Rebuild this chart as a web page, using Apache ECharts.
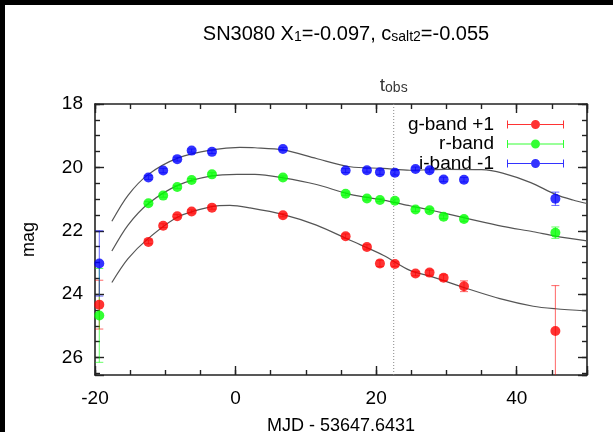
<!DOCTYPE html>
<html>
<head>
<meta charset="utf-8">
<script src="https://cdn.jsdelivr.net/npm/echarts@6/dist/echarts.min.js"></script>
<style>
  html, body { margin: 0; padding: 0; background: #000; }
  #chart { position: absolute; left: 5px; top: 5px; width: 608px; height: 427px; background: #fff; }
</style>
</head>
<body>
<div id="chart"></div>
<script>
// Observation epochs (days relative to reference MJD)
const epochs = [-19.39, -12.4, -10.3, -8.3, -6.25, -3.36, 6.74, 15.66, 18.69, 20.54, 22.67, 25.6, 27.6, 29.6, 32.5, 45.5];

// g-band (+1 mag offset)
const gMag = [24.33, 22.35, 21.84, 21.54, 21.39, 21.27, 21.51, 22.17, 22.51, 23.03, 23.05, 23.35, 23.32, 23.48, 23.75, 25.16];
const gErr = [0.77, 0.06, 0.06, 0.05, 0.05, 0.05, 0.05, 0.07, 0.07, 0.10, 0.07, 0.07, 0.08, 0.09, 0.17, 1.43];
// r-band
const rMag = [24.67, 21.13, 20.89, 20.62, 20.40, 20.22, 20.32, 20.83, 20.98, 21.03, 21.05, 21.33, 21.35, 21.56, 21.63, 22.06];
const rErr = [1.48, 0.05, 0.05, 0.05, 0.05, 0.05, 0.05, 0.05, 0.05, 0.05, 0.05, 0.06, 0.06, 0.06, 0.07, 0.18];
// i-band (-1 mag offset)
const iMag = [23.03, 20.32, 20.10, 19.74, 19.47, 19.51, 19.42, 20.10, 20.09, 20.15, 20.17, 20.05, 20.09, 20.38, 20.39, 20.99];
const iErr = [1.03, 0.06, 0.07, 0.06, 0.05, 0.05, 0.05, 0.06, 0.06, 0.07, 0.07, 0.06, 0.06, 0.07, 0.07, 0.21];

// Model light curves (x, mag)
const gModelX = [-17.6, -15.3, -12.4, -8.15, -3.4, -0.8, 2.05, 6.8, 11.5, 16.3, 21.0, 24.8, 28.1, 32.9, 37.6, 42.35, 45.5, 50];
const gModelY = [23.63, 22.88, 22.24, 21.56, 21.24, 21.20, 21.28, 21.49, 21.82, 22.30, 22.77, 23.25, 23.46, 23.82, 24.14, 24.38, 24.46, 24.53];
const rModelX = [-17.6, -15.3, -12.4, -8.15, -3.4, 0.2, 2.76, 6.8, 11.5, 16.3, 21.0, 24.8, 28.0, 32.9, 38.0, 42.35, 45.5, 50];
const rModelY = [22.64, 21.82, 21.14, 20.56, 20.27, 20.22, 20.22, 20.33, 20.54, 20.85, 21.03, 21.21, 21.36, 21.61, 21.86, 22.03, 22.17, 22.32];
const iModelX = [-17.6, -15.3, -12.4, -8.15, -3.4, 0.6, 2.76, 6.8, 11.5, 16.3, 21.0, 24.8, 30.0, 35.0, 38.0, 42.0, 45.5, 48.0, 50];
const iModelY = [21.70, 20.88, 20.22, 19.70, 19.45, 19.37, 19.38, 19.45, 19.72, 19.98, 20.03, 20.09, 20.06, 20.07, 20.18, 20.48, 20.85, 21.03, 21.14];

// Axis ranges and ticks
const xMin = -20, xMax = 50, xMajor = 20, xMinor = 5;
const yMin = 18, yMax = 26.55, yMajor = 2, yMinor = 0.5;
const tObs = 22.5;

const bands = [
  { name: 'g-band +1', color: '#ff0000', mag: gMag, err: gErr, mx: gModelX, my: gModelY },
  { name: 'r-band',    color: '#00ff00', mag: rMag, err: rErr, mx: rModelX, my: rModelY },
  { name: 'i-band -1', color: '#0000ff', mag: iMag, err: iErr, mx: iModelX, my: iModelY }
];

const FONT = "'Liberation Sans', Arial, Helvetica, sans-serif";

// Error-bar legend glyph: bar with end caps and a central dot
const legendIcon = 'path://M0 2H1V10H0Z M56 2H57V10H56Z M0 5.5H24V6.5H0Z M33 5.5H57V6.5H33Z M24 6A4.5 4.5 0 1 0 33 6A4.5 4.5 0 1 0 24 6Z';

function errRenderItem(params, api) {
  const x = api.value(0), y = api.value(1), e = api.value(2);
  const p1 = api.coord([x, y - e]);
  const p2 = api.coord([x, y + e]);
  const hw = 4;
  const style = { stroke: api.visual('color'), lineWidth: 1, opacity: 0.6 };
  return {
    type: 'group',
    children: [
      { type: 'line', shape: { x1: p1[0], y1: p1[1], x2: p2[0], y2: p2[1] }, style },
      { type: 'line', shape: { x1: p1[0] - hw, y1: p1[1], x2: p1[0] + hw, y2: p1[1] }, style },
      { type: 'line', shape: { x1: p2[0] - hw, y1: p2[1], x2: p2[0] + hw, y2: p2[1] }, style }
    ]
  };
}

const axisLineStyle = { color: '#222', width: 1.6 };

function xAxisDef(position, interval, len, main) {
  return {
    type: 'value', position, min: xMin, max: xMax, interval,
    axisLine: { show: !!main, lineStyle: axisLineStyle, onZero: false },
    axisTick: { show: true, inside: true, length: len, lineStyle: { color: '#222', width: 1.4 } },
    axisLabel: main && position === 'bottom' ? {
      show: true, fontFamily: FONT, fontSize: 19, color: '#000', margin: 14,
      formatter: v => (Math.abs(v % xMajor) < 1e-9 ? String(v) : '')
    } : { show: false },
    splitLine: { show: false },
    name: main && position === 'bottom' ? 'MJD - 53647.6431' : '',
    nameLocation: 'middle', nameGap: 42,
    nameTextStyle: { fontFamily: FONT, fontSize: 18, color: '#000' }
  };
}
function yAxisDef(position, interval, len, main) {
  return {
    type: 'value', position, inverse: true, min: yMin, max: yMax, interval,
    axisLine: { show: !!main, lineStyle: axisLineStyle, onZero: false },
    axisTick: { show: true, inside: true, length: len, lineStyle: { color: '#222', width: 1.4 } },
    axisLabel: main && position === 'left' ? {
      show: true, fontFamily: FONT, fontSize: 19, color: '#000', margin: 12,
      showMaxLabel: false,
      formatter: v => (Math.abs(v % yMajor) < 1e-9 ? String(v) : '')
    } : { show: false },
    splitLine: { show: false },
    name: main && position === 'left' ? 'mag' : '',
    nameLocation: 'middle', nameGap: 57,
    nameTextStyle: { fontFamily: FONT, fontSize: 18, color: '#000' }
  };
}

const series = [];
bands.forEach(b => {
  series.push({
    name: b.name, type: 'scatter', xAxisIndex: 0, yAxisIndex: 0,
    symbol: 'circle', symbolSize: 10, z: 4,
    itemStyle: { color: b.color },
    data: epochs.map((x, k) => [x, b.mag[k]])
  });
});
bands.forEach(b => {
  series.push({
    name: b.name + ' err', type: 'custom', xAxisIndex: 0, yAxisIndex: 0,
    renderItem: errRenderItem, clip: true, z: 3,
    itemStyle: { color: b.color },
    encode: { x: 0, y: 1 },
    data: epochs.map((x, k) => [x, b.mag[k], b.err[k]])
  });
  series.push({
    name: b.name + ' model', type: 'line', xAxisIndex: 0, yAxisIndex: 0,
    showSymbol: false, smooth: 0.3, z: 2, silent: true,
    lineStyle: { color: '#555', width: 1.2 },
    itemStyle: { color: '#555' },
    data: b.mx.map((x, k) => [x, b.my[k]])
  });
});
// Vertical marker at the observation time
series.push({
  name: 'tobs', type: 'line', xAxisIndex: 0, yAxisIndex: 0,
  showSymbol: false, silent: true, z: 1,
  lineStyle: { color: '#888', width: 1, type: [1, 2] },
  data: [[tObs, yMin], [tObs, yMax]]
});
series.push({
  name: 'tobs label', type: 'scatter', xAxisIndex: 0, yAxisIndex: 0,
  symbolSize: 0, silent: true,
  label: {
    show: true, position: 'top', distance: 9,
    formatter: '{t|t}{s|obs}',
    rich: {
      t: { fontFamily: FONT, fontSize: 19, lineHeight: 19, verticalAlign: 'top', color: '#000', fontWeight: 'normal' },
      s: { fontFamily: FONT, fontSize: 14, lineHeight: 14, verticalAlign: 'bottom', padding: [9, 0, 0, 0], color: '#000', fontWeight: 'normal' }
    }
  },
  data: [[tObs, yMin]]
});

const chart = echarts.init(document.getElementById('chart'), null, { renderer: 'canvas' });
chart.setOption({
  animation: false,
  backgroundColor: '#fff',
  title: {
    text: '{n|SN3080 X}{s|1}{n|=-0.097, c}{s|salt2}{n|=-0.055}',
    left: 336, top: 14, textAlign: 'center',
    textStyle: {
      fontWeight: 'normal',
      rich: {
        n: { fontFamily: FONT, fontSize: 20, lineHeight: 20, verticalAlign: 'top', color: '#000', fontWeight: 'normal' },
        s: { fontFamily: FONT, fontSize: 14, lineHeight: 14, verticalAlign: 'bottom', padding: [12, 0, 0, 0], color: '#000', fontWeight: 'normal' }
      }
    }
  },
  legend: {
    data: bands.map(b => b.name),
    orient: 'vertical', align: 'right', right: 44, top: 105,
    icon: legendIcon, itemWidth: 57, itemHeight: 9, itemGap: 0.5,
    selectedMode: false,
    textStyle: { fontFamily: FONT, fontSize: 19, lineHeight: 19, color: '#000', padding: [0, 8, 0, 0] }
  },
  grid: { left: 90, top: 99, right: 26, bottom: 57, containLabel: false, outerBoundsMode: 'none' },
  xAxis: [
    xAxisDef('bottom', xMinor, 5, true),
    xAxisDef('bottom', xMajor, 9, false),
    xAxisDef('top', xMinor, 5, true),
    xAxisDef('top', xMajor, 9, false)
  ],
  yAxis: [
    yAxisDef('left', yMinor, 5, true),
    yAxisDef('left', yMajor, 9, false),
    yAxisDef('right', yMinor, 5, true),
    yAxisDef('right', yMajor, 9, false)
  ],
  series
});
</script>
</body>
</html>
